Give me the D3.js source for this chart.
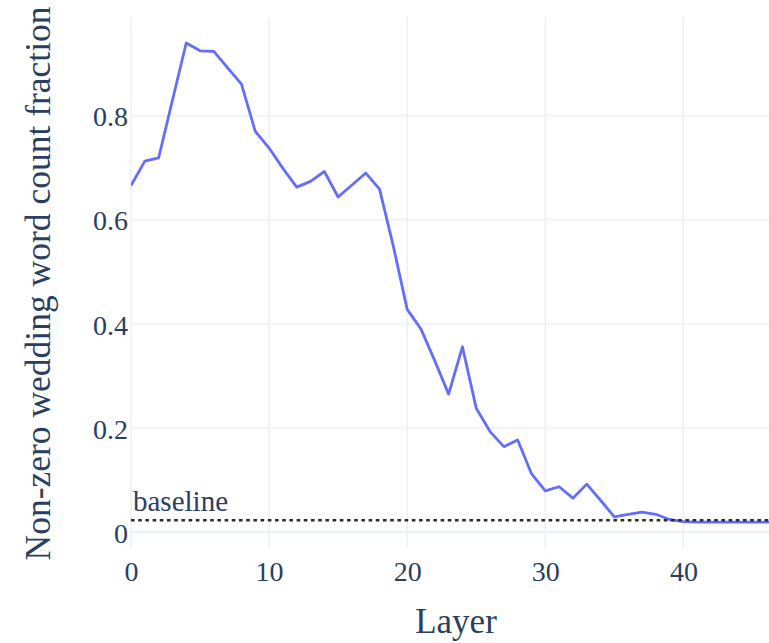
<!DOCTYPE html>
<html>
<head>
<meta charset="utf-8">
<script src="https://cdn.jsdelivr.net/npm/d3@7"></script>
<style>
  body { margin: 0; background: #fff; }
  svg { display: block; font-family: "Liberation Serif", "Times New Roman", serif; }
</style>
</head>
<body>
<div id="chart"></div>
<script>
// layer index -> fraction of non-zero wedding word counts
const layers = d3.range(0, 48);
const fractions = [
  0.666, 0.713, 0.719, 0.830, 0.940, 0.925, 0.924, 0.892, 0.861, 0.770,
  0.738, 0.699, 0.663, 0.674, 0.693, 0.644, 0.667, 0.690, 0.659, 0.549,
  0.428, 0.390, 0.329, 0.265, 0.356, 0.238, 0.193, 0.164, 0.177, 0.112,
  0.079, 0.087, 0.065, 0.092, 0.061, 0.029, 0.034, 0.038, 0.034, 0.024,
  0.020, 0.019, 0.019, 0.019, 0.019, 0.019, 0.019, 0.019
];
const baseline = 0.0225;
const xTicks = [0, 10, 20, 30, 40];
const yTicks = [0, 0.2, 0.4, 0.6, 0.8];

const width = 769, height = 643;
const plot = {left: 131, right: 769, top: 17, bottom: 548};

const textColor = '#2a3f5f';
const gridColor = '#ebf0f8';

const svg = d3.select('#chart').append('svg')
    .attr('width', width)
    .attr('height', height);

const x = d3.scaleLinear().domain([0, 46.2]).range([plot.left, plot.right]);
const y = d3.scaleLinear().domain([-0.0308, 0.990]).range([plot.bottom, plot.top]);

svg.append('defs').append('clipPath').attr('id', 'plot-clip')
  .append('rect')
    .attr('x', plot.left).attr('y', plot.top)
    .attr('width', plot.right - plot.left)
    .attr('height', plot.bottom - plot.top);

// grid
const grid = svg.append('g');
grid.selectAll('line.xg').data(xTicks).enter().append('line')
    .attr('class', 'xg')
    .attr('x1', d => x(d)).attr('x2', d => x(d))
    .attr('y1', plot.top).attr('y2', plot.bottom)
    .attr('stroke', gridColor).attr('stroke-width', 1.5);
grid.selectAll('line.yg').data(yTicks).enter().append('line')
    .attr('class', 'yg')
    .attr('x1', plot.left).attr('x2', plot.right)
    .attr('y1', d => y(d)).attr('y2', d => y(d))
    .attr('stroke', gridColor)
    .attr('stroke-width', d => d === 0 ? 2.5 : 1.5);

// axes (labels only, plotly style)
const xAxis = svg.append('g')
    .attr('transform', `translate(0,${plot.bottom})`)
    .call(d3.axisBottom(x).tickValues(xTicks).tickSize(0).tickPadding(13));
const yAxis = svg.append('g')
    .attr('transform', `translate(${plot.left},0)`)
    .call(d3.axisLeft(y).tickValues(yTicks).tickSize(0).tickPadding(3)
      .tickFormat(d => d === 0 ? '0' : d3.format('.1f')(d)));
[xAxis, yAxis].forEach(a => {
  a.select('.domain').remove();
  a.selectAll('text')
      .attr('fill', textColor)
      .style('font-family', '"Liberation Serif", serif')
      .style('font-size', '28px');
});
yAxis.selectAll('text').attr('dy', '0.36em');

// series
const line = d3.line()
    .x((d, i) => x(layers[i]))
    .y(d => y(d));

svg.append('path')
    .datum(fractions)
    .attr('clip-path', 'url(#plot-clip)')
    .attr('fill', 'none')
    .attr('stroke', '#636efa')
    .attr('stroke-width', 2.8)
    .attr('stroke-linejoin', 'round')
    .attr('d', line);

// baseline
svg.append('line')
    .attr('x1', x(0)).attr('x2', plot.right)
    .attr('y1', y(baseline)).attr('y2', y(baseline))
    .attr('stroke', '#2b2b2b')
    .attr('stroke-width', 2.4)
    .attr('stroke-dasharray', '3.6,3.6');

svg.append('text')
    .attr('x', x(0) + 2)
    .attr('y', y(baseline) - 9)
    .attr('fill', textColor)
    .style('font-size', '29px')
    .text('baseline');

// titles
svg.append('text')
    .attr('x', 456)
    .attr('y', 633)
    .attr('text-anchor', 'middle')
    .attr('fill', textColor)
    .style('font-size', '35px')
    .text('Layer');

svg.append('text')
    .attr('transform', `translate(50,${(plot.top + plot.bottom) / 2 + 1}) rotate(-90)`)
    .attr('text-anchor', 'middle')
    .attr('fill', textColor)
    .style('font-size', '35.5px')
    .text('Non-zero wedding word count fraction');
</script>
</body>
</html>
